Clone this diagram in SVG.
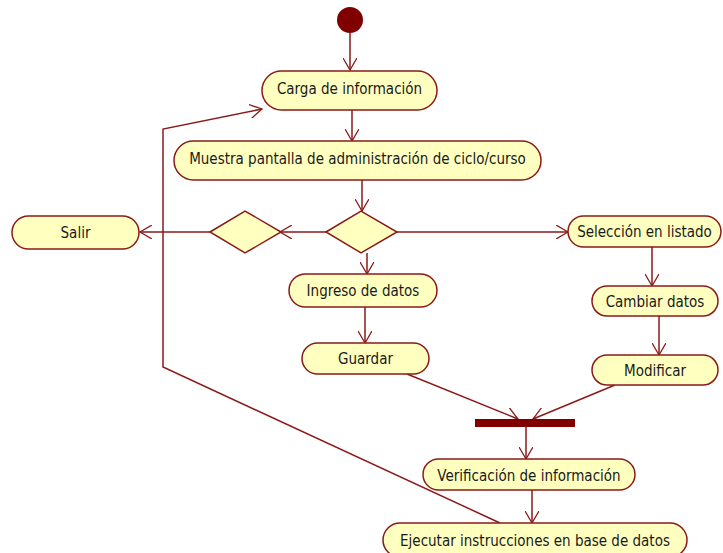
<svg xmlns="http://www.w3.org/2000/svg" width="723" height="553" viewBox="0 0 723 553">
  <defs>
    <marker id="open" markerWidth="14" markerHeight="14" refX="12" refY="7" orient="auto" markerUnits="userSpaceOnUse">
      <path d="M0,0 L12,7 L0,14" fill="none" stroke="#8b1a1a" stroke-width="1.3"/>
    </marker>
  </defs>
  <style>
    .act { fill: #ffffc0; stroke: #8b1a1a; stroke-width: 1.5; }
    .dec { fill: #ffffc0; stroke: #8b1a1a; stroke-width: 1.5; }
    .lbl { font-family: "DejaVu Sans Condensed", "DejaVu Sans", sans-serif; font-size: 15px; fill: #1a1a1a; text-anchor: middle; }
    .flow { fill: none; stroke: #8b1a1a; stroke-width: 1.5; }
    .arr { marker-end: url(#open); }
  </style>
  <rect width="723" height="553" fill="#ffffff"/>

  <g id="connectors">
    <line class="flow arr" x1="350" y1="33" x2="350" y2="70"/>
    <line class="flow arr" x1="352" y1="110" x2="352" y2="141"/>
    <line class="flow arr" x1="362" y1="180" x2="362" y2="211"/>
    <line class="flow arr" x1="326" y1="232" x2="280" y2="232"/>
    <line class="flow arr" x1="210" y1="232" x2="140" y2="232"/>
    <line class="flow arr" x1="397" y1="232" x2="568" y2="232"/>
    <line class="flow arr" x1="367" y1="253" x2="367" y2="274"/>
    <line class="flow arr" x1="365" y1="307" x2="365" y2="343"/>
    <line class="flow arr" x1="652" y1="247" x2="652" y2="286"/>
    <line class="flow arr" x1="659" y1="316" x2="659" y2="355"/>
    <line class="flow arr" x1="407" y1="374" x2="518" y2="419"/>
    <line class="flow arr" x1="615" y1="385" x2="533" y2="419"/>
    <line class="flow arr" x1="526" y1="427" x2="526" y2="459"/>
    <line class="flow arr" x1="532" y1="490" x2="532" y2="523"/>
    <polyline class="flow arr" points="500,523 163,367 163,129 262,109"/>
  </g>

  <g id="inicio">
    <circle cx="350" cy="20" r="13" fill="#800000"/>
  </g>

  <g id="carga">
    <rect class="act" x="262" y="71" width="175" height="39" rx="19.5"/>
    <text class="lbl" x="349.5" y="93.5">Carga de información</text>
  </g>

  <g id="muestra">
    <rect class="act" x="174" y="141" width="367" height="39" rx="19.5"/>
    <text class="lbl" x="357.5" y="163.5">Muestra pantalla de administración de ciclo/curso</text>
  </g>

  <g id="decision1">
    <polygon class="dec" points="326,232 361,211 397,232 361,253"/>
  </g>

  <g id="decision2">
    <polygon class="dec" points="210,232 245,211 281,232 245,253"/>
  </g>

  <g id="salir">
    <rect class="act" x="12" y="216" width="127" height="33" rx="16.5"/>
    <text class="lbl" x="75.5" y="238">Salir</text>
  </g>

  <g id="seleccion">
    <rect class="act" x="568" y="216" width="153" height="31" rx="15.5"/>
    <text class="lbl" x="644.5" y="237">Selección en listado</text>
  </g>

  <g id="cambiar">
    <rect class="act" x="592" y="286" width="126" height="30" rx="15"/>
    <text class="lbl" x="655" y="306.5">Cambiar datos</text>
  </g>

  <g id="modificar">
    <rect class="act" x="592" y="355" width="126" height="30" rx="15"/>
    <text class="lbl" x="655" y="375.5">Modificar</text>
  </g>

  <g id="ingreso">
    <rect class="act" x="289" y="274" width="148" height="33" rx="16.5"/>
    <text class="lbl" x="363" y="296">Ingreso de datos</text>
  </g>

  <g id="guardar">
    <rect class="act" x="302" y="343" width="127" height="31" rx="15.5"/>
    <text class="lbl" x="365.5" y="364">Guardar</text>
  </g>

  <g id="union">
    <rect x="475" y="419" width="100" height="8" fill="#800000"/>
  </g>

  <g id="verificacion">
    <rect class="act" x="423" y="459" width="212" height="31" rx="15.5"/>
    <text class="lbl" x="529" y="480.5">Verificación de información</text>
  </g>

  <g id="ejecutar">
    <rect class="act" x="383" y="523" width="304" height="34" rx="17"/>
    <text class="lbl" x="535" y="545.5">Ejecutar instrucciones en base de datos</text>
  </g>
</svg>
